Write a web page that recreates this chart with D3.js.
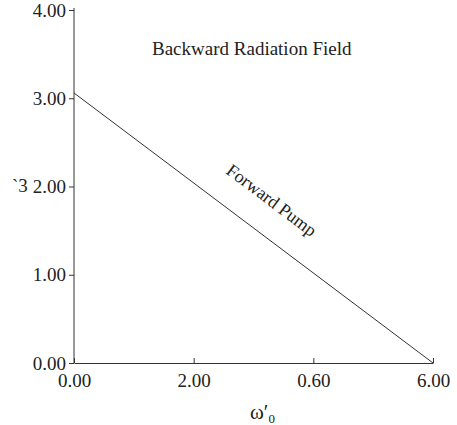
<!DOCTYPE html>
<html>
<head>
<meta charset="utf-8">
<script src="https://cdn.jsdelivr.net/npm/d3@7"></script>
<style>
  body { margin: 0; background: #fff; }
  text, tspan { font-family: "Liberation Serif", "Times New Roman", serif; fill: #222; }
</style>
</head>
<body>
<div id="chart"></div>
<script>
// data
const xValues = [0, 6.0];
const yValues = [3.06, 0];
const xTicks = [0, 2, 4, 6];
const xTickLabels = ["0.00", "2.00", "0.60", "6.00"];  // third label is printed "0.60" in the original
const yTicks = [0, 1, 2, 3, 4];
const yTickLabels = ["0.00", "1.00", "2.00", "3.00", "4.00"];

const width = 457, height = 425;

const svg = d3.select("#chart")
  .append("svg")
    .attr("width", width)
    .attr("height", height);

const x = d3.scaleLinear().domain([0, 6]).range([74, 433]);
const y = d3.scaleLinear().domain([0, 4]).range([363, 10]);

// Y axis
const yAxis = svg.append("g")
  .attr("transform", `translate(${x(0)},0)`)
  .call(d3.axisLeft(y)
    .tickValues(yTicks)
    .tickFormat((d, i) => yTickLabels[i])
    .tickSizeInner(5)
    .tickSizeOuter(0)
    .tickPadding(3));

// X axis, ticks point up into the plot
const xAxis = svg.append("g")
  .attr("transform", `translate(0,${y(0)})`)
  .call(d3.axisBottom(x)
    .tickValues(xTicks)
    .tickFormat((d, i) => xTickLabels[i])
    .tickSizeInner(-5)
    .tickSizeOuter(0)
    .tickPadding(11));

svg.selectAll(".domain, .tick line").attr("stroke", "#333").attr("stroke-width", 1);
svg.selectAll(".tick text")
  .style("font-size", "19px")
  .style("font-family", "Liberation Serif, serif")
  .attr("fill", "#222");
yAxis.select(".domain").attr("d", `M0,${y(0)}V${y(4) - 2}`);

// the straight line
const line = d3.line()
  .x((d, i) => x(xValues[i]))
  .y(d => y(d));

svg.append("path")
  .datum(yValues)
  .attr("d", line)
  .attr("fill", "none")
  .attr("stroke", "#333")
  .attr("stroke-width", 1);

// annotations
svg.append("text")
  .attr("x", 152)
  .attr("y", 55)
  .style("font-size", "19px")
  .text("Backward Radiation Field");

svg.append("text")
  .attr("transform", "translate(268,205) rotate(37)")
  .attr("text-anchor", "middle")
  .style("font-size", "18px")
  .text("Forward Pump");

// axis labels
svg.append("text")
  .attr("x", 12)
  .attr("y", 192)
  .style("font-size", "19px")
  .text("`3");

const xl = svg.append("text")
  .attr("x", 250)
  .attr("y", 419)
  .style("font-size", "21px");
xl.append("tspan").text("ω′");
xl.append("tspan")
  .attr("dy", 4)
  .style("font-size", "13px")
  .style("fill", "#222")
  .text("0");
</script>
</body>
</html>
